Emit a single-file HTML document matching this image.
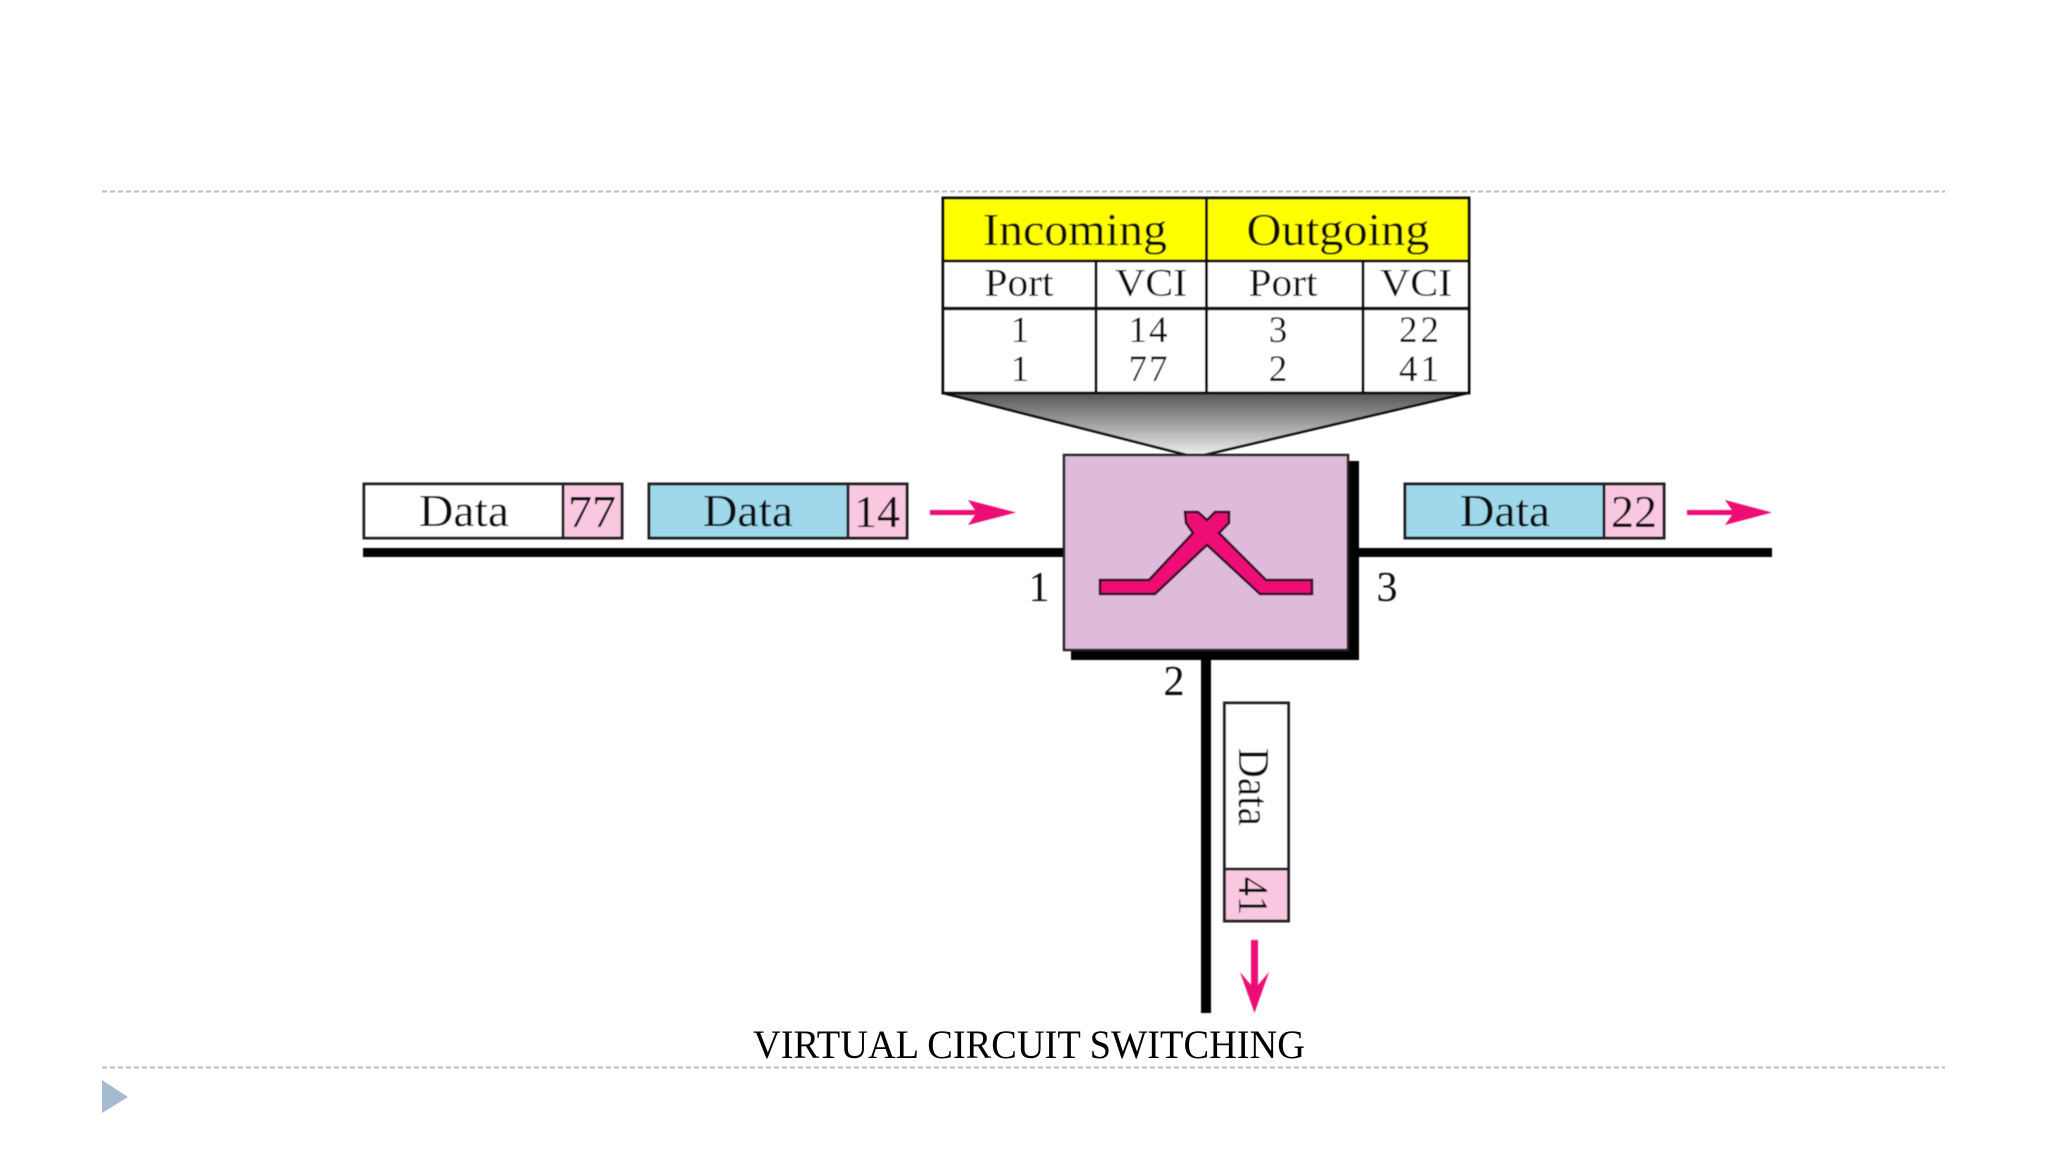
<!DOCTYPE html>
<html>
<head>
<meta charset="utf-8">
<style>
html,body{margin:0;padding:0;background:#fff;width:2048px;height:1152px;overflow:hidden}
svg{display:block}
text{font-family:"Liberation Serif",serif;fill:#111;text-anchor:middle}
</style>
</head>
<body>
<svg width="2048" height="1152" viewBox="0 0 2048 1152" xmlns="http://www.w3.org/2000/svg">
<defs>
<linearGradient id="g" x1="0" y1="0" x2="0" y2="1"><stop offset="0" stop-color="#555"/><stop offset="1" stop-color="#eee"/></linearGradient>
<filter id="b" x="-2%" y="-2%" width="104%" height="104%"><feGaussianBlur stdDeviation="0.6"/></filter>
</defs>
<rect width="2048" height="1152" fill="#fff"/>
<line x1="102" y1="191.5" x2="1945" y2="191.5" stroke="#b4bcc4" stroke-width="2" stroke-dasharray="5 3"/>
<line x1="102" y1="1067.5" x2="1945" y2="1067.5" stroke="#b4bcc4" stroke-width="2" stroke-dasharray="5 3"/>
<polygon points="102,1080 128,1097 102,1113" fill="#a5bbd0"/>
<g filter="url(#b)">
<polygon points="943,393 1468,393 1204,455 1187,455" fill="url(#g)" stroke="#111" stroke-width="2.5"/>
<rect x="943" y="198" width="526" height="195" fill="#fff" stroke="#111" stroke-width="3"/>
<rect x="943" y="198" width="526" height="63" fill="#ffff00" stroke="#111" stroke-width="3"/>
<line x1="943" y1="308.5" x2="1469" y2="308.5" stroke="#111" stroke-width="3.500"/>
<line x1="1096" y1="260" x2="1096" y2="393" stroke="#111" stroke-width="3"/>
<line x1="1206.500" y1="198" x2="1206.500" y2="393" stroke="#111" stroke-width="3"/>
<line x1="1363" y1="260" x2="1363" y2="393" stroke="#111" stroke-width="3"/>
<text x="1075" y="245" font-size="46" textLength="184" lengthAdjust="spacingAndGlyphs">Incoming</text>
<text x="1338" y="245" font-size="46" textLength="183" lengthAdjust="spacingAndGlyphs">Outgoing</text>
<text x="1019" y="295.500" font-size="39" textLength="69" lengthAdjust="spacingAndGlyphs">Port</text>
<text x="1151" y="295.500" font-size="39" textLength="72" lengthAdjust="spacingAndGlyphs">VCI</text>
<text x="1283" y="295.500" font-size="39" textLength="69" lengthAdjust="spacingAndGlyphs">Port</text>
<text x="1416" y="295.500" font-size="39" textLength="72" lengthAdjust="spacingAndGlyphs">VCI</text>
<text x="1020" y="342" font-size="37">1</text>
<text x="1148" y="342" font-size="37" textLength="39">14</text>
<text x="1278" y="342" font-size="37">3</text>
<text x="1419" y="342" font-size="37" textLength="40">22</text>
<text x="1020" y="381" font-size="37">1</text>
<text x="1148" y="381" font-size="37" textLength="39">77</text>
<text x="1278" y="381" font-size="37">2</text>
<text x="1419" y="381" font-size="37" textLength="40">41</text>

<rect x="363" y="548" width="700" height="9" fill="#000"/>
<rect x="1358" y="548" width="414" height="9" fill="#000"/>
<rect x="1201" y="655" width="10" height="358" fill="#000"/>
<rect x="1071" y="461" width="288" height="199" fill="#000"/>
<rect x="1064" y="455" width="284" height="195" fill="#dfbbdb" stroke="#222" stroke-width="2.500"/>
<polygon points="1100,580 1149,580 1193,533 1186,523 1185,512 1198,512 1207,520 1215,512 1229,512 1229,523 1219,533 1266,580 1312,580 1312,594 1260,594 1207,545 1155,594 1100,594" fill="#ee0a74" stroke="#2a0a20" stroke-width="2.500" stroke-linejoin="miter"/>

<rect x="364" y="484" width="258" height="54" fill="#fff" stroke="#222" stroke-width="3"/>
<rect x="563" y="484" width="59" height="54" fill="#f9c7e0" stroke="#222" stroke-width="3"/>
<text x="464" y="526" font-size="46" textLength="90" lengthAdjust="spacingAndGlyphs">Data</text>
<text x="592" y="527" font-size="46" textLength="48" lengthAdjust="spacingAndGlyphs">77</text>
<rect x="649" y="484" width="258" height="54" fill="#9fd8ea" stroke="#222" stroke-width="3"/>
<rect x="848" y="484" width="59" height="54" fill="#f9c7e0" stroke="#222" stroke-width="3"/>
<text x="748" y="526" font-size="46" textLength="90" lengthAdjust="spacingAndGlyphs">Data</text>
<text x="877" y="527" font-size="46" textLength="46" lengthAdjust="spacingAndGlyphs">14</text>
<rect x="1405" y="484" width="259" height="54" fill="#9fd8ea" stroke="#222" stroke-width="3"/>
<rect x="1604" y="484" width="60" height="54" fill="#f9c7e0" stroke="#222" stroke-width="3"/>
<text x="1505" y="526" font-size="46" textLength="90" lengthAdjust="spacingAndGlyphs">Data</text>
<text x="1634" y="527" font-size="46" textLength="46" lengthAdjust="spacingAndGlyphs">22</text>

<rect x="1224.500" y="703" width="64" height="218" fill="#fff" stroke="#222" stroke-width="3"/>
<rect x="1224.500" y="869" width="64" height="52" fill="#f9c7e0" stroke="#222" stroke-width="3"/>
<text transform="translate(1239,787) rotate(90)" font-size="44" textLength="78" lengthAdjust="spacingAndGlyphs">Data</text>
<text transform="translate(1239,896) rotate(90)" font-size="42" textLength="38" lengthAdjust="spacingAndGlyphs">41</text>

<polygon points="930,510 975,510 968,500 1016,512.500 968,525 975,515 930,515" fill="#ee0a74"/>
<polygon points="1687,510 1732,510 1725,500 1772,512.500 1725,525 1732,515 1687,515" fill="#ee0a74"/>
<polygon points="1251,940 1258,940 1258,985 1269,972 1254.500,1013 1240,972 1251,985" fill="#ee0a74"/>

<text x="1039" y="601" font-size="42">1</text>
<text x="1387" y="601" font-size="42">3</text>
<text x="1174" y="695" font-size="42">2</text>
</g>
<text x="1029" y="1058" font-size="40" textLength="552" lengthAdjust="spacingAndGlyphs" style="fill:#000">VIRTUAL CIRCUIT SWITCHING</text>
</svg>
</body>
</html>
